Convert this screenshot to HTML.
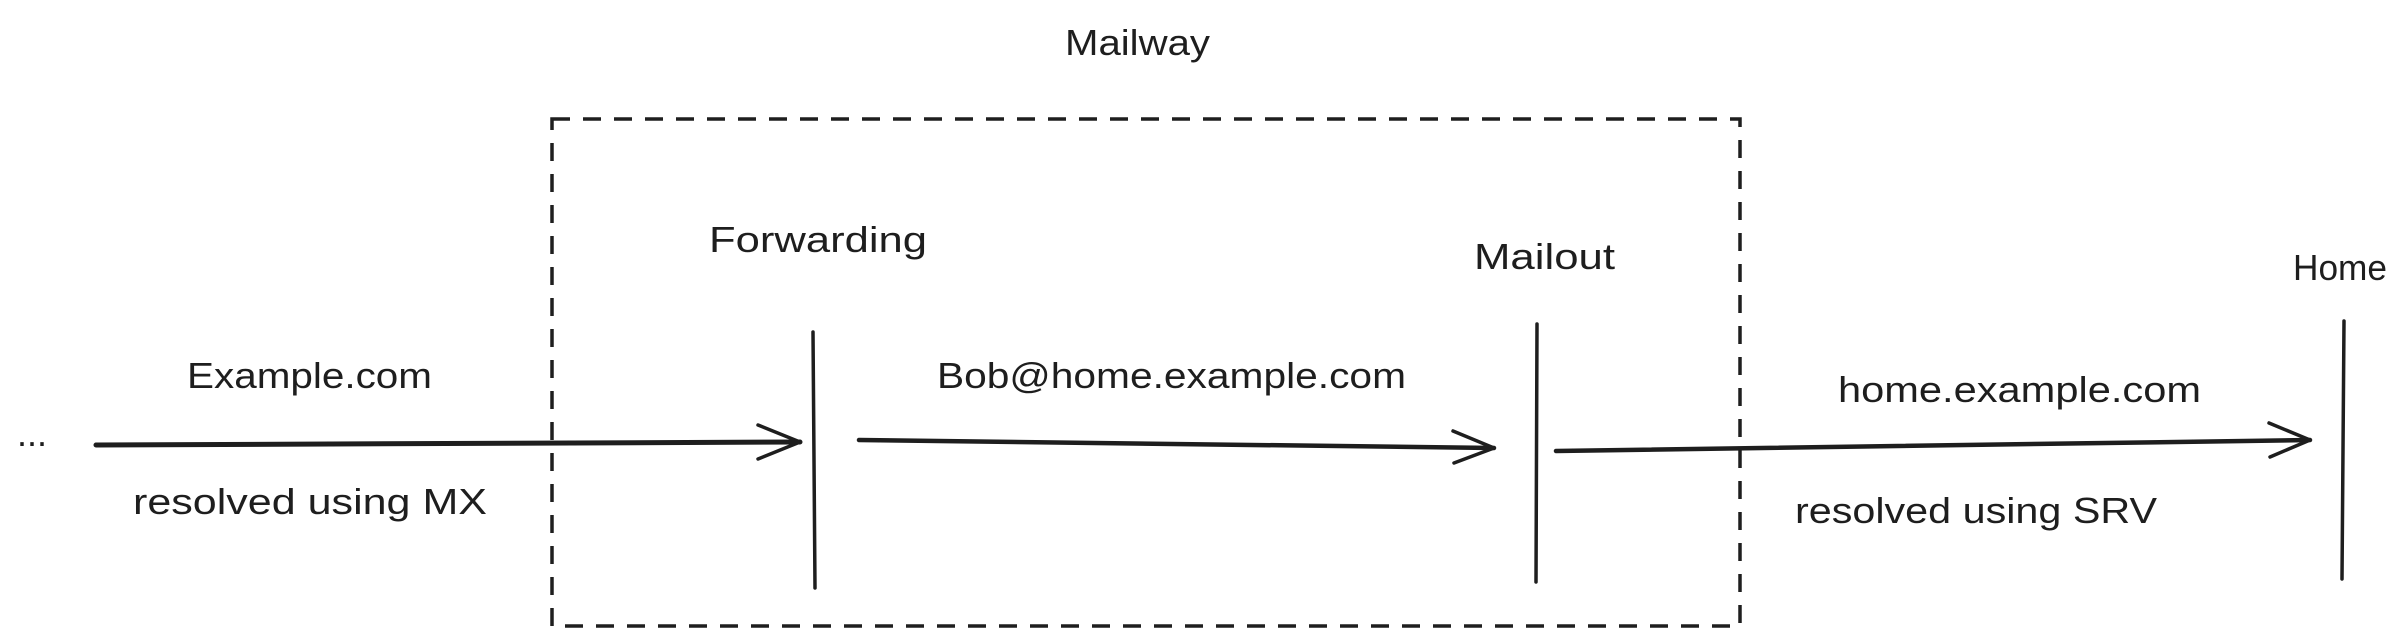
<!DOCTYPE html>
<html><head><meta charset="utf-8"><style>
html,body{margin:0;padding:0;background:#fff;}
svg{display:block;}
text{font-family:"Liberation Sans",sans-serif;fill:#1e1e1e;}
</style></head><body>
<svg width="2402" height="642" viewBox="0 0 2402 642" xmlns="http://www.w3.org/2000/svg">
<rect x="552" y="119" width="1188" height="507" fill="none" stroke="#1e1e1e" stroke-width="3.5" stroke-dasharray="18 13"/>
<g stroke="#1e1e1e" stroke-width="3.5" fill="none" stroke-linecap="round" stroke-linejoin="round">
<line x1="813" y1="332" x2="815" y2="588"/>
<line x1="1537" y1="324" x2="1536" y2="582"/>
<line x1="2344" y1="321" x2="2342" y2="579"/>
<path d="M96 445 L800 442" stroke-width="5"/>
<path d="M758 425 L800 442 L758 459"/>
<path d="M859 440 L1494 448" stroke-width="4.5"/>
<path d="M1453 431 L1494 448 L1454 463"/>
<path d="M1556 451 L2310 440" stroke-width="4.5"/>
<path d="M2269 423 L2310 440 L2270 457"/>
</g>
<g font-size="36">
<text x="1065" y="55" textLength="145" lengthAdjust="spacingAndGlyphs">Mailway</text>
<text x="709" y="252" textLength="218" lengthAdjust="spacingAndGlyphs">Forwarding</text>
<text x="1474" y="269" textLength="141" lengthAdjust="spacingAndGlyphs">Mailout</text>
<text x="2293" y="280" textLength="94" lengthAdjust="spacingAndGlyphs">Home</text>
<text x="187" y="388" textLength="245" lengthAdjust="spacingAndGlyphs">Example.com</text>
<text x="133" y="514" textLength="354" lengthAdjust="spacingAndGlyphs">resolved using MX</text>
<text x="937" y="388" textLength="469" lengthAdjust="spacingAndGlyphs">Bob@home.example.com</text>
<text x="1838" y="402" textLength="363" lengthAdjust="spacingAndGlyphs">home.example.com</text>
<text x="1795" y="523" textLength="362" lengthAdjust="spacingAndGlyphs">resolved using SRV</text>
<text x="17" y="446" textLength="30" lengthAdjust="spacingAndGlyphs">...</text>
</g>
</svg>
</body></html>
